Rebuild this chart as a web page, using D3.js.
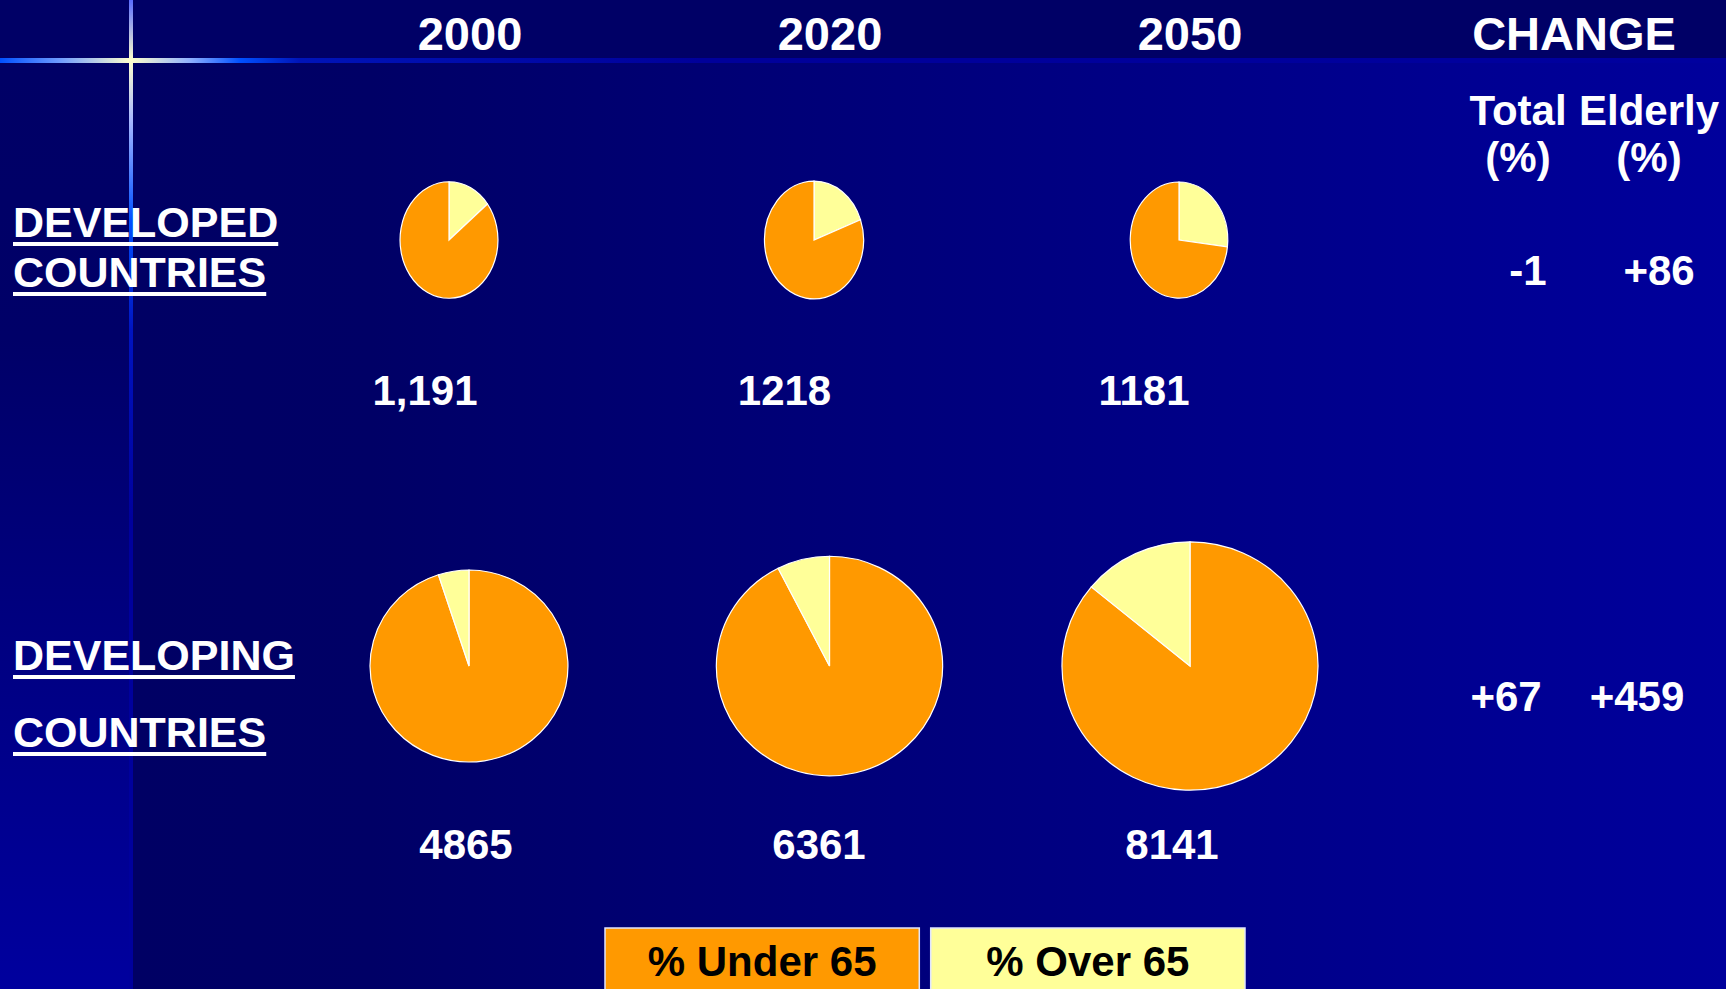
<!DOCTYPE html>
<html>
<head>
<meta charset="utf-8">
<script src="https://cdn.jsdelivr.net/npm/d3@7"></script>
<style>
  html, body { margin: 0; padding: 0; background: #000066; overflow: hidden; }
  text { font-family: "Liberation Sans", Arial, sans-serif; font-weight: bold; }
</style>
</head>
<body>
<svg id="chart" width="1726" height="989"></svg>
<script>
// values
const years = ['2000', '2020', '2050']
const developedTotal = [1191, 1218, 1181]
const developedLabels = ['1,191', '1218', '1181']
const developedOver65 = [14.4, 19.4, 26.9]
const developingTotal = [4865, 6361, 8141]
const developingLabels = ['4865', '6361', '8141']
const developingOver65 = [5.0, 7.5, 14.0]
const changeHeads = ['Total', 'Elderly']
const developedChange = ['-1', '+86']
const developingChange = ['+67', '+459']
const legendLabels = ['% Under 65', '% Over 65']

const WIDTH = 1726
const HEIGHT = 989
const svg = d3.select('#chart')
const defs = svg.append('defs')

// background gradients
const bodyGrad = defs.append('linearGradient').attr('id', 'bodyGrad')
  .attr('gradientUnits', 'userSpaceOnUse').attr('x1', 131).attr('x2', WIDTH).attr('y1', 0).attr('y2', 0)
bodyGrad.append('stop').attr('offset', 0).attr('stop-color', '#000064')
bodyGrad.append('stop').attr('offset', 0.15).attr('stop-color', '#000066')
bodyGrad.append('stop').attr('offset', 1).attr('stop-color', '#00009c')

const stripGrad = defs.append('linearGradient').attr('id', 'stripGrad')
  .attr('gradientUnits', 'userSpaceOnUse').attr('x1', 0).attr('x2', 0).attr('y1', 60).attr('y2', HEIGHT)
stripGrad.append('stop').attr('offset', 0).attr('stop-color', '#000066')
stripGrad.append('stop').attr('offset', 0.3).attr('stop-color', '#000068')
stripGrad.append('stop').attr('offset', 1).attr('stop-color', '#00009e')

const hGlow = defs.append('linearGradient').attr('id', 'hGlow')
  .attr('gradientUnits', 'userSpaceOnUse').attr('x1', 0).attr('x2', WIDTH).attr('y1', 0).attr('y2', 0)
;[[0, '#0050ff'], [60, '#6f9cff'], [131, '#ffffcc'], [190, '#8fb0ff'], [240, '#0050ff'], [300, '#0014b8'],
  [700, '#00009a'], [WIDTH, '#00009e']].forEach(([x, c]) => {
  hGlow.append('stop').attr('offset', x / WIDTH).attr('stop-color', c)
})

const vGlow = defs.append('linearGradient').attr('id', 'vGlow')
  .attr('gradientUnits', 'userSpaceOnUse').attr('x1', 0).attr('x2', 0).attr('y1', 0).attr('y2', HEIGHT)
;[[0, '#5a6cff'], [60, '#ffffcc'], [120, '#a8b8ff'], [220, '#0050ff'], [330, '#0014c0'],
  [520, '#00009c'], [HEIGHT, '#00009c']].forEach(([y, c]) => {
  vGlow.append('stop').attr('offset', y / HEIGHT).attr('stop-color', c)
})

svg.append('rect').attr('width', WIDTH).attr('height', HEIGHT).attr('fill', 'url(#bodyGrad)')
svg.append('rect').attr('width', 131).attr('height', HEIGHT).attr('fill', 'url(#stripGrad)')
svg.append('rect').attr('width', WIDTH).attr('height', 59).attr('fill', '#000066')
svg.append('rect').attr('x', 0).attr('y', 58).attr('width', WIDTH).attr('height', 5).attr('fill', 'url(#hGlow)')
svg.append('rect').attr('x', 129).attr('y', 0).attr('width', 4).attr('height', HEIGHT).attr('fill', 'url(#vGlow)')

// scales
const xCol = d3.scalePoint().domain(years).range([470, 1190])
const xChange = d3.scalePoint().domain(changeHeads).range([1518, 1649])
const rScale = d3.scaleSqrt().domain([0, d3.max(developingTotal)]).range([0, 128])
const color = d3.scaleOrdinal().domain(['under', 'over']).range(['#ff9900', '#ffff99'])
const pie = d3.pie().sort(null).value(d => d.v)

// header
const head = svg.append('g').attr('fill', '#fff').attr('font-size', 47).attr('text-anchor', 'middle')
head.selectAll('text.year').data(years).join('text')
  .attr('class', 'year').attr('x', d => xCol(d)).attr('y', 50).text(d => d)
head.append('text').attr('x', 1574).attr('y', 50).text('CHANGE')

const sub = svg.append('g').attr('fill', '#fff').attr('font-size', 42).attr('text-anchor', 'middle')
sub.selectAll('text.head').data(changeHeads).join('text')
  .attr('class', 'head').attr('x', d => xChange(d)).attr('y', 125).text(d => d)
sub.selectAll('text.pct').data(changeHeads).join('text')
  .attr('class', 'pct').attr('x', d => xChange(d)).attr('y', 172).text('(%)')

const rows = [
  { name: ['DEVELOPED', 'COUNTRIES'], nameY: [237, 287], total: developedTotal, labels: developedLabels,
    over: developedOver65, change: developedChange, pieY: 240, aspect: 1.19,
    pieRange: [449, 1179], labelRange: [425, 1144], labelY: 405, changeDx: 10, changeY: 285, overFirst: true },
  { name: ['DEVELOPING', 'COUNTRIES'], nameY: [670, 747], total: developingTotal, labels: developingLabels,
    over: developingOver65, change: developingChange, pieY: 666, aspect: 0.97,
    pieRange: [469, 1190], labelRange: [466, 1172], labelY: 859, changeDx: -12, changeY: 711, overFirst: false }
]

rows.forEach(row => {
  const xPie = d3.scalePoint().domain(years).range(row.pieRange)
  const xLabel = d3.scalePoint().domain(years).range(row.labelRange)

  // row title, underlined
  row.name.forEach((word, i) => {
    const t = svg.append('text').attr('x', 13).attr('y', row.nameY[i])
      .attr('fill', '#fff').attr('font-size', 43).text(word)
    const w = t.node().getComputedTextLength()
    svg.append('rect').attr('x', 13).attr('y', row.nameY[i] + 5).attr('width', w).attr('height', 4).attr('fill', '#fff')
  })

  years.forEach((yr, i) => {
    const r = rScale(row.total[i])
    const slices = row.overFirst
      ? [{ k: 'over', v: row.over[i] }, { k: 'under', v: 100 - row.over[i] }]
      : [{ k: 'under', v: 100 - row.over[i] }, { k: 'over', v: row.over[i] }]
    const arc = d3.arc().innerRadius(0).outerRadius(r)
    const g = svg.append('g')
      .attr('transform', `translate(${xPie(yr)},${row.pieY}) scale(1,${row.aspect})`)
    g.selectAll('path').data(pie(slices)).join('path')
      .attr('d', arc)
      .attr('fill', d => color(d.data.k))
      .attr('stroke', '#ffffff')
      .attr('stroke-width', 1.2)
      .attr('vector-effect', 'non-scaling-stroke')

    svg.append('text').attr('x', xLabel(yr)).attr('y', row.labelY)
      .attr('text-anchor', 'middle').attr('fill', '#fff').attr('font-size', 42)
      .text(row.labels[i])
  })

  svg.selectAll(null).data(changeHeads).join('text')
    .attr('x', (d, i) => xChange(d) + row.changeDx).attr('y', row.changeY)
    .attr('text-anchor', 'middle').attr('fill', '#fff').attr('font-size', 42)
    .text((d, i) => row.change[i])
})

// legend
const xLeg = d3.scaleBand().domain(legendLabels).range([605, 1245]).paddingInner(0.035)
const legendKeys = ['under', 'over']
const leg = svg.append('g')
leg.selectAll('rect').data(legendLabels).join('rect')
  .attr('x', d => xLeg(d)).attr('y', 928)
  .attr('width', xLeg.bandwidth()).attr('height', 80)
  .attr('fill', (d, i) => color(legendKeys[i]))
  .attr('stroke', '#dfe4ff').attr('stroke-width', 1.5)
leg.selectAll('text').data(legendLabels).join('text')
  .attr('x', d => xLeg(d) + xLeg.bandwidth() / 2).attr('y', 976)
  .attr('text-anchor', 'middle').attr('fill', '#000').attr('font-size', 42)
  .text(d => d)
</script>
</body>
</html>
